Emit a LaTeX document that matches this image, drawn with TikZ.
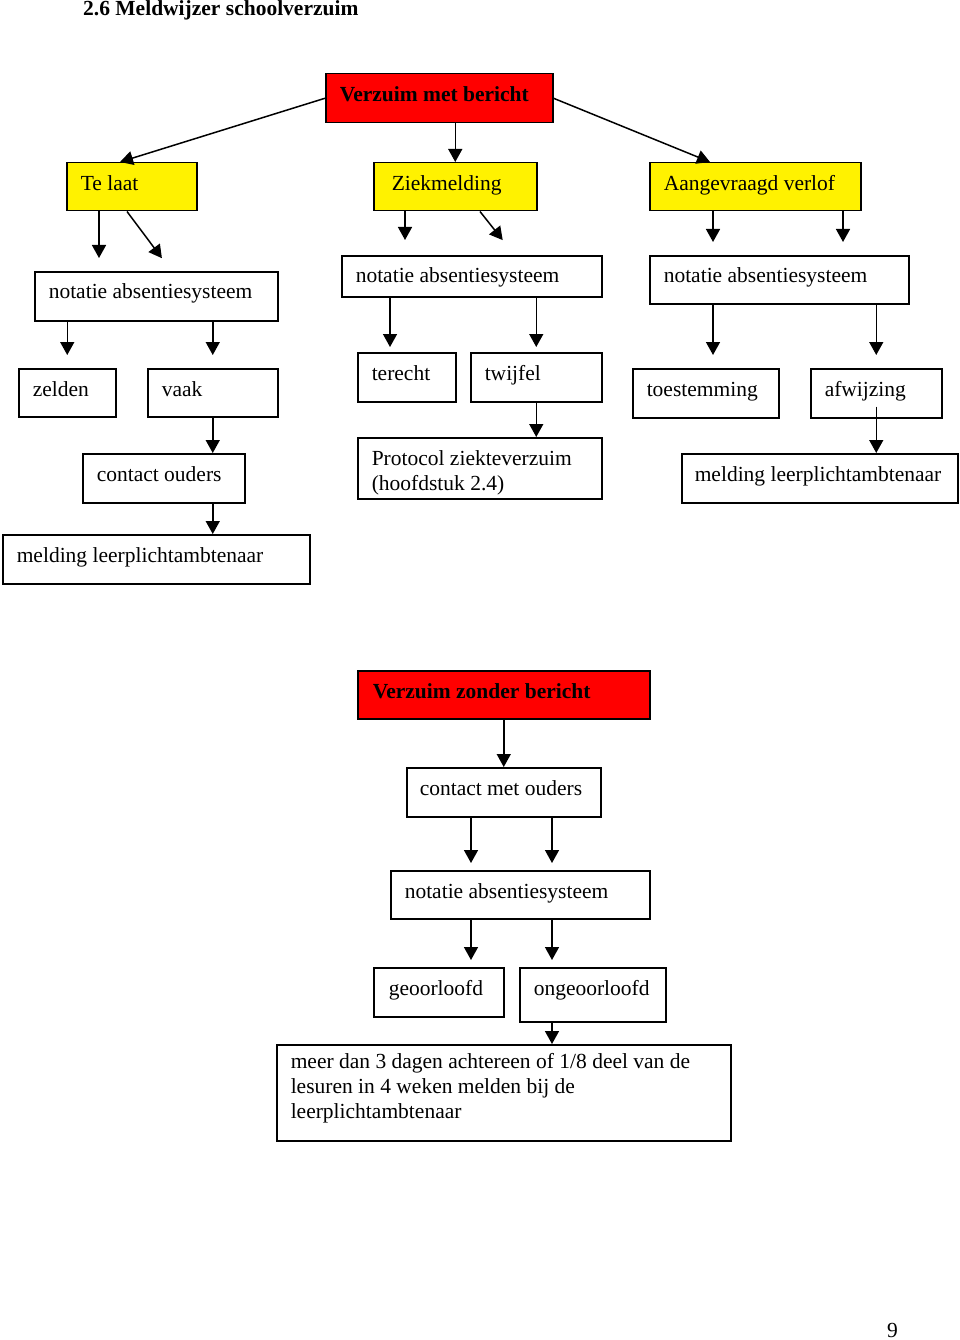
\documentclass[tikz,border=0pt]{standalone}
\usepackage{fontspec}
\setmainfont{Liberation Serif}
\usetikzlibrary{arrows.meta}
\hyphenpenalty=10000

\begin{document}
\begin{tikzpicture}[x=1pt,y=-1pt,
  font=\fontsize{21.5}{25}\selectfont,
  box/.style={draw,line width=1.5pt,anchor=north west,align=flush left,inner xsep=14pt,inner ysep=0pt,text height=28pt},
  rood/.style={box,fill=red,font=\fontsize{21.5}{25}\selectfont\bfseries},
  geel/.style={box,fill=yellow},
  pijl/.style={-{Triangle[length=13pt,width=14pt]},line width=1.5pt}]
\useasboundingbox (0,0) rectangle (960,1340);
\node (titel) at (83,16) [anchor=base west,inner sep=0pt,font=\fontsize{21.5}{25}\selectfont\bfseries] {2.6 Meldwijzer schoolverzuim};
% verzuim met bericht
\node (metb) at (325,73) [rood,text width=199pt,text depth=21pt] {Verzuim met bericht};
\node (telaat) at (66,162) [geel,text width=102pt,text depth=20pt] {Te laat};
\node (ziek) at (373,162) [geel,inner xsep=18pt,text width=127pt,text depth=20pt] {Ziekmelding};
\node (verlof) at (649,162) [geel,text width=183pt,text depth=20pt] {Aangevraagd verlof};
\node (notL) at (34,271) [box,text width=215pt,text height=27pt,text depth=22pt] {notatie absentiesysteem};
\node (notM) at (341,255) [box,text width=232pt,text height=27pt,text depth=14pt] {notatie absentiesysteem};
\node (notR) at (649,255) [box,text width=231pt,text height=27pt,text depth=21pt] {notatie absentiesysteem};
\node (zelden) at (18,368) [box,text width=69pt,text depth=20pt] {zelden};
\node (vaak) at (147,368) [box,text width=102pt,text depth=20pt] {vaak};
\node (terecht) at (357,352) [box,text width=70pt,text depth=21pt] {terecht};
\node (twijfel) at (470,352) [box,text width=103pt,text depth=21pt] {twijfel};
\node (toest) at (632,368) [box,text width=118pt,text depth=21pt] {toestemming};
\node (afw) at (810,368) [box,text width=103pt,text depth=21pt] {afwijzing};
\node (contactL) at (82,453) [box,text width=134pt,text depth=21pt] {contact ouders};
\node (protocol) at (357,437) [box,text width=216pt,text height=28pt,text depth=33pt] {Protocol ziekteverzuim\\(hoofdstuk 2.4)};
\node (meldR) at (681,453) [box,inner xsep=13pt,text width=250pt,text depth=21pt] {melding leerplichtambtenaar};
\node (meldL) at (2,534) [box,text width=279pt,text depth=21pt] {melding leerplichtambtenaar};

\draw[pijl] (metb.west) -- ([xshift=54pt]telaat.north west);
\draw[pijl] (metb.south -| ziek.north) -- (ziek.north);
\draw[pijl] (metb.east) -- ([xshift=61pt]verlof.north west);
\draw[pijl,shorten >=13pt] ([xshift=33pt]telaat.south west) -- ([xshift=33pt]telaat.south west |- notL.north);
\draw[pijl,shorten >=16pt] ([xshift=61pt]telaat.south west) -- ([xshift=137.5pt]notL.north west);
\draw[pijl,shorten >=15pt] ([xshift=32pt]ziek.south west) -- ([xshift=32pt]ziek.south west |- notM.north);
\draw[pijl,shorten >=19pt] ([xshift=107pt]ziek.south west) -- ([xshift=173.5pt]notM.north west);
\foreach \dx in {64,194}
  \draw[pijl,shorten >=13pt] ([xshift=\dx pt]verlof.south west) -- ([xshift=\dx pt]verlof.south west |- notR.north);
\draw[pijl,shorten >=13pt] (notL.south -| zelden.north) -- (zelden.north);
\draw[pijl,shorten >=13pt] (notL.south -| vaak.north) -- (vaak.north);
\draw[pijl,shorten >=5pt] ([xshift=33pt]terecht.north west |- notM.south) -- ([xshift=33pt]terecht.north west);
\draw[pijl,shorten >=5pt] (notM.south -| twijfel.north) -- (twijfel.north);
\draw[pijl,shorten >=13pt] ([xshift=81pt]toest.north west |- notR.south) -- ([xshift=81pt]toest.north west);
\draw[pijl,shorten >=13pt] (notR.south -| afw.north) -- (afw.north);
\draw[pijl] (vaak.south) -- (vaak.south |- contactL.north);
\draw[pijl] (contactL.south -| vaak.south) -- (vaak.south |- meldL.north);
\draw[pijl] (twijfel.south) -- (twijfel.south |- protocol.north);
\draw[pijl,shorten <=-12pt] (afw.south) -- (afw.south |- meldR.north);

% verzuim zonder bericht
\node (zonderb) at (357,670) [rood,inner xsep=15pt,text width=262pt,text depth=20pt] {Verzuim zonder bericht};
\node (cmo) at (406,767) [box,inner xsep=13pt,text width=168pt,text depth=21pt] {contact met ouders};
\node (notB) at (390,870) [box,text width=231pt,text depth=20pt] {notatie absentiesysteem};
\node (geo) at (373,967) [box,inner xsep=15pt,text width=100pt,text depth=21pt] {geoorloofd};
\node (ongeo) at (519,967) [box,text width=118pt,text depth=26pt] {ongeoorloofd};
\node (meer) at (276,1044) [box,text width=426pt,text height=24pt,text depth=72pt] {meer dan 3 dagen achtereen of 1/8 deel van de\\lesuren in 4 weken melden bij de\\leerplichtambtenaar};

\draw[pijl] (zonderb.south) -- (cmo.north);
\foreach \dx in {65,146}
  \draw[pijl,shorten >=7pt] ([xshift=\dx pt]cmo.south west) -- ([xshift=\dx pt]cmo.south west |- notB.north);
\draw[pijl,shorten >=7pt] ([xshift=81pt]notB.south west) -- ([xshift=81pt]notB.south west |- geo.north);
\draw[pijl,shorten >=7pt] ([xshift=162pt]notB.south west) -- ([xshift=162pt]notB.south west |- ongeo.north);
\draw[pijl] ([xshift=33pt]ongeo.south west) -- ([xshift=33pt]ongeo.south west |- meer.north);

\node (pagina) at (887,1337) [anchor=base west,inner sep=0pt] {9};
\end{tikzpicture}
\end{document}
